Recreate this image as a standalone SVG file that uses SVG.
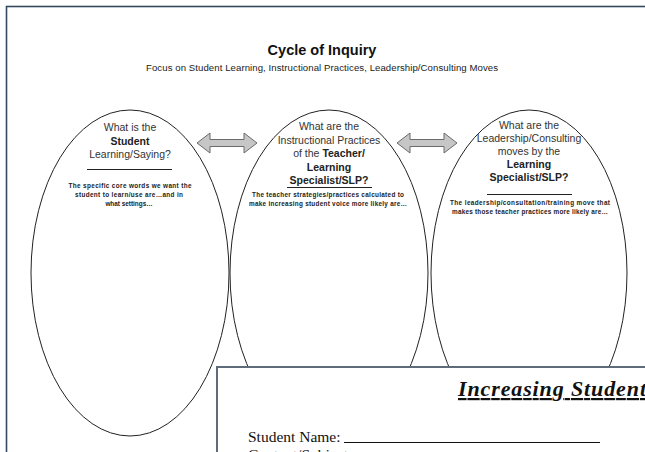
<svg xmlns="http://www.w3.org/2000/svg" width="645" height="452" viewBox="0 0 645 452">
  <defs>
    <style>
      .frame { fill: none; stroke: #34495e; stroke-width: 1.6; }
      .oval { fill: none; stroke: #222; stroke-width: 1; }
      .arrow { fill: #c6c6c6; stroke: #6b6b6b; stroke-width: 1; }
      .rule { stroke: #222; stroke-width: 1; }
      .q { font-family: "Liberation Sans", Arial, sans-serif; font-size: 10.5px; fill: #333; text-anchor: middle; }
      .b { font-weight: bold; fill: #222; }
      .small { font-family: "Liberation Sans", Arial, sans-serif; font-size: 6.4px; font-weight: bold; fill: #222; text-anchor: middle; }
      .sheet { fill: #fff; stroke: #5d6b7a; stroke-width: 2; }
      .serif { font-family: "Liberation Serif", "Times New Roman", serif; fill: #111; }
    </style>
  </defs>

  <rect width="645" height="452" fill="#fff"/>
  <!-- page frame -->
  <rect class="frame" x="6.5" y="6.5" width="700" height="500"/>

  <!-- heading -->
  <text x="322" y="55" font-family="Liberation Sans, Arial, sans-serif" font-size="14.5" font-weight="bold" text-anchor="middle" fill="#111">Cycle of Inquiry</text>
  <text x="322" y="71" font-family="Liberation Sans, Arial, sans-serif" font-size="9.6" text-anchor="middle" fill="#222" textLength="352">Focus on Student Learning, Instructional Practices, Leadership/Consulting Moves</text>

  <!-- connectors -->
  <g id="connectors">
    <polygon class="arrow" points="197,143 210,133 210,139.5 244,139.5 244,133 257,143 244,153 244,146.5 210,146.5 210,153"/>
    <polygon class="arrow" points="397,143 410,133 410,139.5 444,139.5 444,133 457,143 444,153 444,146.5 410,146.5 410,153"/>
  </g>

  <!-- student learning -->
  <g id="student-learning">
    <ellipse class="oval" cx="130" cy="273" rx="99" ry="163"/>
    <text class="q" x="130" y="131">What is the</text>
    <text class="q b" x="130" y="145">Student</text>
    <text class="q" x="130" y="158">Learning/Saying?</text>
    <line class="rule" x1="87" y1="169.5" x2="172" y2="169.5"/>
    <text class="small" x="130" y="188" textLength="123">The specific core words we want the</text>
    <text class="small" x="129" y="197" textLength="108">student to learn/use are…and in</text>
    <text class="small" x="129" y="206">what settings…</text>
  </g>

  <!-- instructional practices -->
  <g id="instructional-practices">
    <ellipse class="oval" cx="329" cy="273" rx="99" ry="163"/>
    <text class="q" x="329" y="130">What are the</text>
    <text class="q" x="329" y="144">Instructional Practices</text>
    <text class="q" x="329" y="157">of the <tspan class="b">Teacher/</tspan></text>
    <text class="q b" x="329" y="171">Learning</text>
    <text class="q b" x="329" y="184">Specialist/SLP?</text>
    <line class="rule" x1="287" y1="187.5" x2="372" y2="187.5"/>
    <text class="small" x="328" y="197" textLength="152">The teacher strategies/practices calculated to</text>
    <text class="small" x="328" y="206" textLength="158">make increasing student voice more likely are…</text>
  </g>

  <!-- leadership moves -->
  <g id="leadership-moves">
    <ellipse class="oval" cx="529" cy="273" rx="98" ry="163"/>
    <text class="q" x="529" y="129">What are the</text>
    <text class="q" x="529" y="142">Leadership/Consulting</text>
    <text class="q" x="529" y="155">moves by the</text>
    <text class="q b" x="529" y="168">Learning</text>
    <text class="q b" x="529" y="181">Specialist/SLP?</text>
    <line class="rule" x1="487" y1="194.5" x2="572" y2="194.5"/>
    <text class="small" x="530" y="205" textLength="160">The leadership/consultation/training move that</text>
    <text class="small" x="530" y="214" textLength="156">makes those teacher practices more likely are…</text>
  </g>

  <!-- overlapping worksheet -->
  <g id="worksheet">
    <rect class="sheet" x="217" y="367" width="500" height="200"/>
    <text class="serif" x="458" y="396" font-size="22" font-weight="bold" font-style="italic" text-decoration="underline" textLength="188">Increasing Student</text>
    <text class="serif" x="248" y="442" font-size="15.5">Student Name:</text>
    <line x1="344" y1="442.5" x2="600" y2="442.5" stroke="#111" stroke-width="1"/>
    <text class="serif" x="248" y="460" font-size="15.5">Content/Subject</text>
  </g>
</svg>
